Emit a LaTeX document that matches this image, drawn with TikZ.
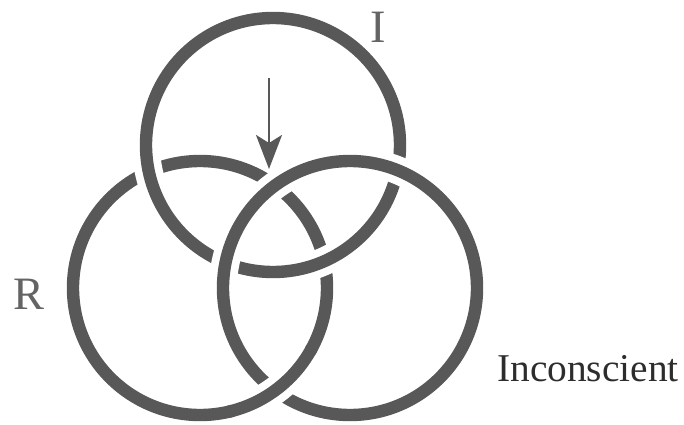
\documentclass[tikz,border=0pt]{standalone}
\usepackage{fontspec}
\setmainfont{Liberation Serif}
\usepackage{tikz}
\usetikzlibrary{arrows.meta}
\definecolor{ringgray}{RGB}{88,88,88}
\definecolor{labelgray}{RGB}{100,100,100}
\definecolor{textdark}{RGB}{45,45,45}

\begin{document}
\begin{tikzpicture}[
    x=0.025cm, y=0.025cm,
    ring/.style={draw=ringgray, line width=0.31cm},
    halo/.style={draw=white, line width=0.7cm},
    lbl/.style={text=#1, inner sep=0pt, font=\fontsize{33}{35}\selectfont},
    arr/.style={-{Stealth[length=0.85cm, width=0.65cm, inset=0.2cm]}, line width=1.6pt, draw=#1},
]
    \useasboundingbox (0,0) rectangle (684,424);

    % Ring centres
    \coordinate (cR) at (200,136);
    \coordinate (cI) at (273,279);
    \coordinate (cS) at (350,136);

    % R ring (lowest)
    \draw[ring] (cR) circle[radius=127];

    % I ring, over R
    \draw[halo] (cI) circle[radius=127];
    \draw[ring] (cI) circle[radius=127];

    % Right ring, over I and R
    \draw[halo] (cS) circle[radius=127];
    \draw[ring] (cS) circle[radius=127];

    % R back over the right ring at the bottom
    \draw[halo] ([shift={(-75:127)}]cR) arc[start angle=-75, end angle=-30, radius=127];
    \draw[ring] ([shift={(-77:127)}]cR) arc[start angle=-77, end angle=-28, radius=127];

    % Arrow
    \coordinate (atop) at (269,346);
    \coordinate (atip) at (269,255);
    \draw[arr=ringgray] (atop) -- (atip);

    % Labels
    \node[lbl=labelgray] (labI) at (378,397) {I};
    \node[lbl=labelgray] (labR) at (29,130) {R};
    \node[lbl=textdark, anchor=base, font=\fontsize{28}{30}\selectfont] (labInc) at (588,43) {Inconscient};
\end{tikzpicture}
\end{document}
